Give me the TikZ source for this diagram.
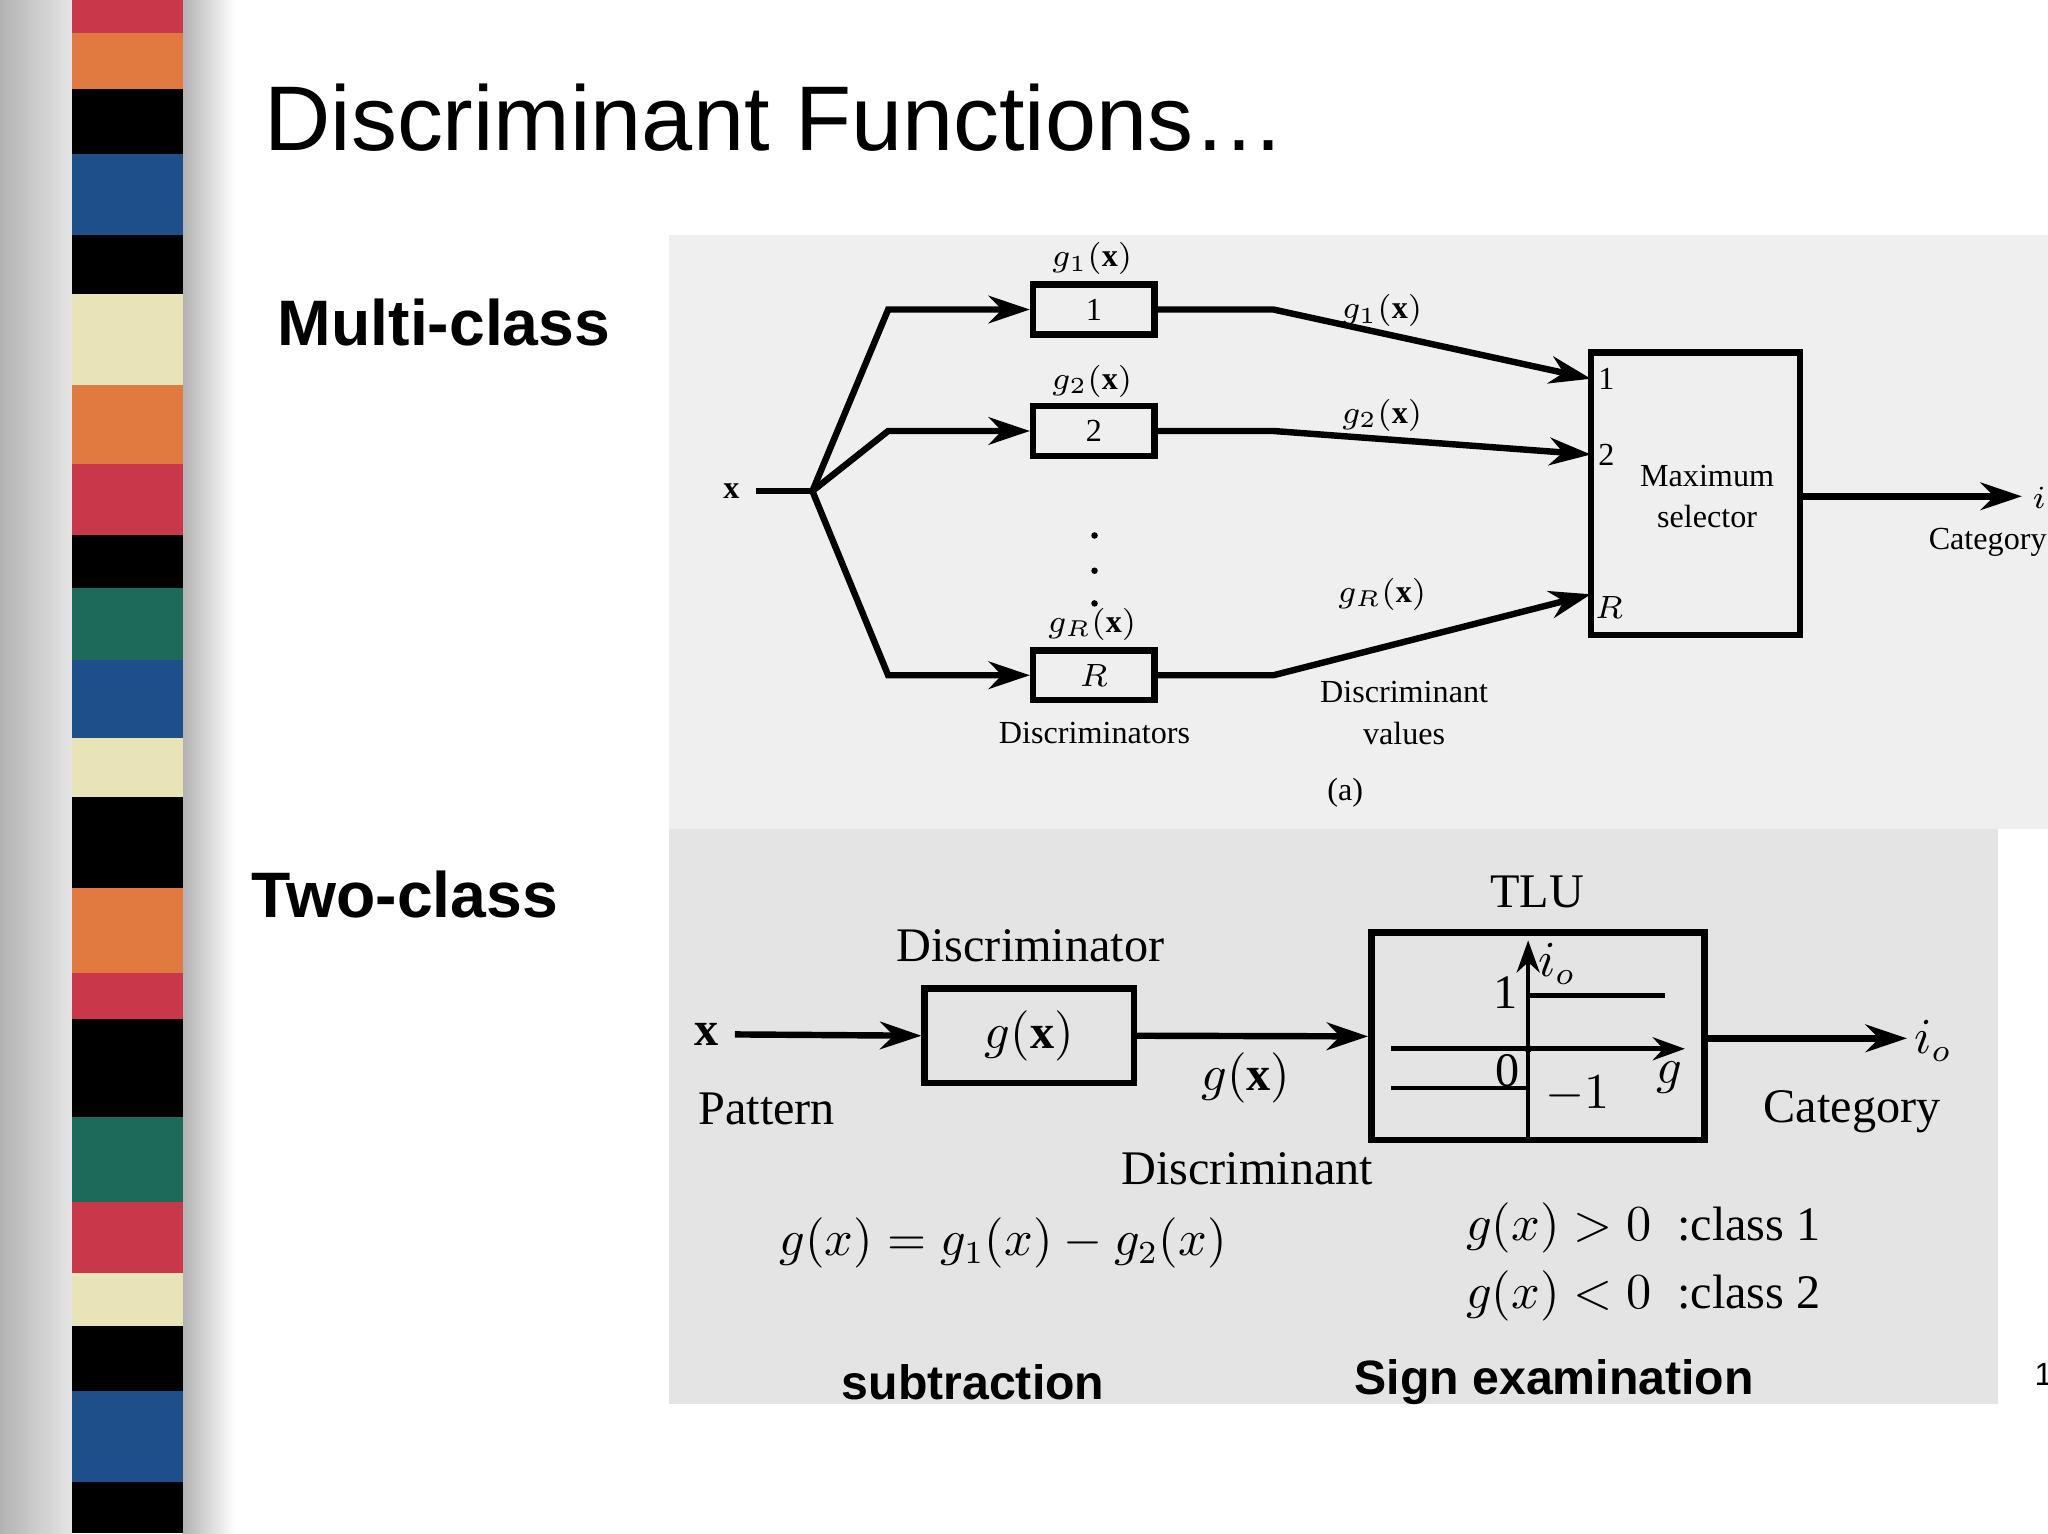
\documentclass[tikz,border=0pt]{standalone}
\usepackage{fontspec}
\setmainfont{Liberation Serif}
\setsansfont{Liberation Sans}
\usetikzlibrary{arrows.meta}
\definecolor{sred}{HTML}{C8384A}\definecolor{sorange}{HTML}{E07A40}\definecolor{sblue}{HTML}{1F4F8A}
\definecolor{scream}{HTML}{E8E4B8}\definecolor{steal}{HTML}{1E6A5A}\definecolor{scan}{HTML}{E4E4E4}
\begin{document}
\begin{tikzpicture}[x=0.01cm,y=-0.01cm,
  ln/.style={line width=1.4pt},
  ar/.style={ln,-{Stealth[length=9pt,width=6pt]}},
  bx/.style={draw,line width=1.4pt},
  sm/.style={font=\fontsize{7}{8}\selectfont},
  md/.style={font=\fontsize{10.5}{12}\selectfont},
  hd/.style={font=\sffamily\bfseries\fontsize{14}{16}\selectfont}]
\useasboundingbox (0,0) rectangle (1568,1174);
\fill[white] (0,0) rectangle (1568,1174);
\shade[left color=gray!60,right color=gray!20] (0,0) rectangle (55,1174);
\shade[left color=gray!60,right color=white] (140,0) rectangle (180,1174);
\foreach \a/\b/\c in {0/25/sred,25/68/sorange,68/118/black,118/180/sblue,180/225/black,225/295/scream,295/355/sorange,355/410/sred,410/450/black,450/505/steal,505/565/sblue,565/610/scream,610/680/black,680/745/sorange,745/780/sred,780/855/black,855/920/steal,920/975/sred,975/1015/scream,1015/1065/black,1065/1135/sblue,1135/1174/black}
  \fill[\c] (55,\a) rectangle (140,\b);
\fill[scan!60] (512,180) rectangle (1568,635);
\fill[scan] (512,635) rectangle (1530,1075);
\node[font=\sffamily\fontsize{20}{24}\selectfont,anchor=west] (title) at (190,90) {Discriminant Functions…};
\node[hd] (mc) at (340,247) {Multi-class};
\node[hd] (tc) at (310,685) {Two-class};
% top diagram
\node[sm] (x) at (560,376) {\textbf{x}};
\coordinate (br) at (622,376);
\draw[ln] (x) -- (br);
\tikzset{sbox/.style={bx,minimum width=0.93cm,minimum height=0.38cm,inner sep=0,sm}}
\node[sbox] (b1) at (837.5,237) {1};
\node[sbox] (b2) at (837.5,330) {2};
\node[sbox] (bR) at (837.5,517) {$R$};
\draw[ar] (br) -- (680,237) -- (b1.west);
\draw[ar] (br) -- (680,330) -- (b2.west);
\draw[ar] (br) -- (680,517) -- (bR.west);
\foreach \y in {410,437,462} \fill (838,\y) circle (2.5);
\node[sm] at (836,198) {$g_1(\mathbf{x})$};
\node[sm] at (836,292) {$g_2(\mathbf{x})$};
\node[sm] at (836,478) {$g_R(\mathbf{x})$};
\node[bx,minimum width=1.6cm,minimum height=2.16cm,inner sep=0] (ms) at (1298,378) {};
\draw[ar] (b1.east) -- (975,237) -- (1218,290);
\draw[ar] (b2.east) -- (975,330) -- (1218,348);
\draw[ar] (bR.east) -- (975,517) -- (1218,455);
\node[sm] at (1058,238) {$g_1(\mathbf{x})$};
\node[sm] at (1058,318) {$g_2(\mathbf{x})$};
\node[sm] at (1058,455) {$g_R(\mathbf{x})$};
\node[sm] at (1230,290) {1};
\node[sm] at (1230,348) {2};
\node[sm] at (1232,465) {$R$};
\node[sm,align=center] at (1307,380) {Maximum\\[1pt]selector};
\coordinate (out) at (1548,380);
\draw[ar] (ms.east |- out) -- (out);
\node[sm,anchor=west,inner sep=1pt] at (1552,383) {$i_o$};
\node[sm,anchor=west,inner sep=0pt] at (1476,415) {Category};
\node[sm] at (838,561) {Discriminators};
\node[sm,align=center] at (1075,546) {Discriminant\\[1pt]values};
\node[sm] at (1030,607) {(a)};
% bottom diagram
\node[md] at (1177,683) {TLU};
\node[md] at (789,724) {Discriminator};
\node[md] (x2) at (541,792) {\textbf{x}};
\node[bx,minimum width=1.6cm,minimum height=0.72cm,inner sep=0,md] (d) at (788,793) {$g(\mathbf{x})$};
\node[bx,minimum width=2.55cm,minimum height=1.59cm,inner sep=0] (t) at (1177.5,793.5) {};
\draw[ar] (x2.east) -- (d.west);
\node[md] at (587,849) {Pattern};
\draw[ar] (d.east) -- (t.west);
\node[md] at (954,825) {$g(\mathbf{x})$};
\draw[line width=1pt,-{Stealth[length=7pt,width=5pt]}] (1170,873) -- (1170,720);
\draw[line width=1pt,-{Stealth[length=7pt,width=5pt]}] (1065,803) -- (1290,803);
\draw[line width=1pt] (1170,762) -- (1275,762);
\draw[line width=1pt] (1065,833) -- (1170,833);
\fill (1170,803) circle (3);
\node[md] at (1192,738) {$i_o$};
\node[md] at (1153,760) {1};
\node[md] at (1154,820) {0};
\node[md] at (1208,838) {$-1$};
\node[md] at (1278,825) {$g$};
\coordinate (o2) at (1460,795);
\draw[ar] (t.east |- o2) -- (o2);
\node[md] at (1480,797) {$i_o$};
\node[md] at (1418,851) {Category};
\node[md] at (955,895) {Discriminant};
\node[md] at (768,952) {$g(x)=g_1(x)-g_2(x)$};
\node[md,anchor=west] at (1110,940) {$g(x)>0$ \;:class 1};
\node[md,anchor=west] at (1110,992) {$g(x)<0$ \;:class 2};
\node[font=\sffamily\bfseries\fontsize{10.5}{12}\selectfont] at (745,1058) {subtraction};
\node[font=\sffamily\bfseries\fontsize{10.5}{12}\selectfont] at (1190,1058) {Sign examination};
\node[font=\sffamily\fontsize{7}{8}\selectfont,anchor=west,inner sep=0pt] at (1557,1052) {1};
\end{tikzpicture}
\end{document}
